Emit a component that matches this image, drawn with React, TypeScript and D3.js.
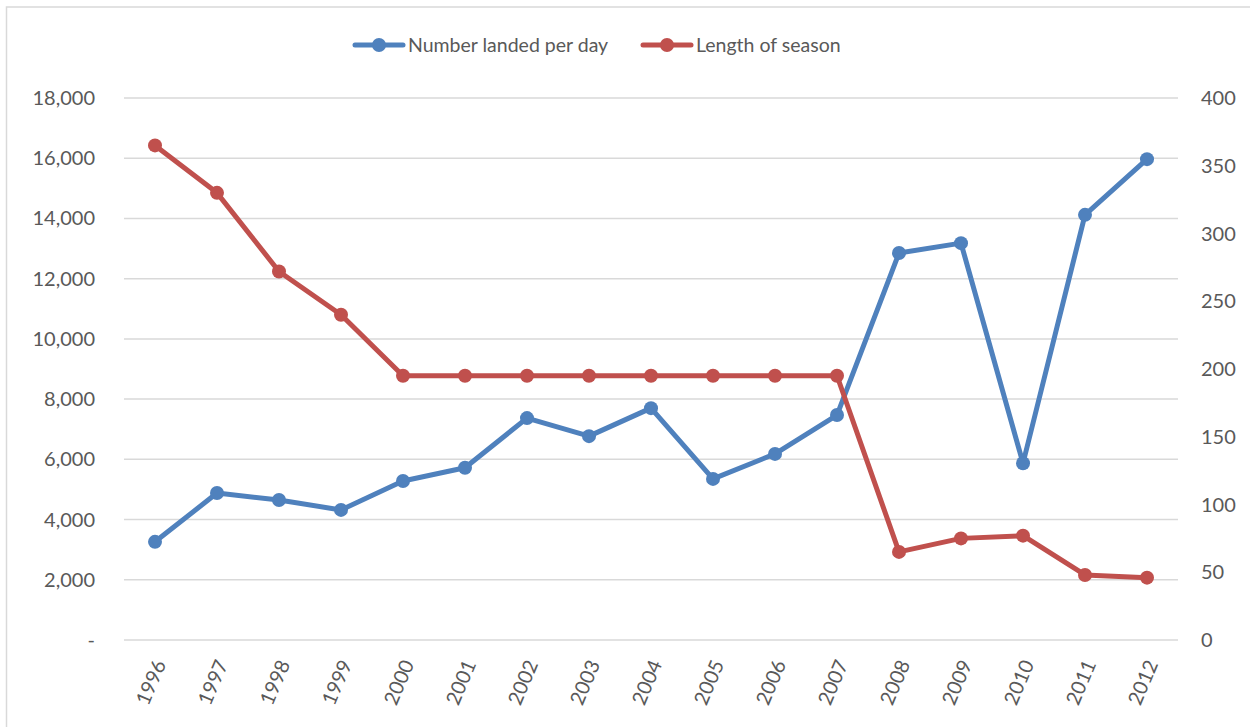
import React from "react";
import * as d3 from "d3";

const years = ["1996","1997","1998","1999","2000","2001","2002","2003","2004","2005","2006","2007","2008","2009","2010","2011","2012"];
const landedPerDay = [3260, 4880, 4650, 4320, 5280, 5720, 7370, 6770, 7700, 5350, 6180, 7470, 12850, 13180, 5870, 14120, 15970];
const seasonLength = [365, 330, 272, 240, 195, 195, 195, 195, 195, 195, 195, 195, 65, 75, 77, 48, 46];
const leftTicks = [0, 2000, 4000, 6000, 8000, 10000, 12000, 14000, 16000, 18000];
const rightTicks = [0, 50, 100, 150, 200, 250, 300, 350, 400];

const W = 1250, H = 727;
const plot = { left: 124, right: 1178, top: 98, bottom: 640 };
const BLUE = "#4f81bd";
const RED = "#c0504d";
const FONT = "Lato, 'Open Sans', sans-serif";

export default function App() {
  const x = d3.scalePoint<string>().domain(years).range([plot.left + 31, plot.right - 31]);
  const yL = d3.scaleLinear().domain([0, 18000]).range([plot.bottom, plot.top]);
  const yR = d3.scaleLinear().domain([0, 400]).range([plot.bottom, plot.top]);
  const fmt = d3.format(",");
  const lineL = d3.line<number>().x((_, i) => x(years[i])!).y(d => yL(d));
  const lineR = d3.line<number>().x((_, i) => x(years[i])!).y(d => yR(d));

  return (
    <svg width={W} height={H} style={{ position: "absolute", left: 0, top: 0 }} fontFamily={FONT}>
      <rect x={0} y={0} width={W} height={H} fill="#fff" />
      <rect x={6.5} y={7} width={W + 10} height={H + 10} fill="none" stroke="#d9d9d9" strokeWidth={1.5} />
      {leftTicks.map(t => (
        <line key={t} x1={plot.left} x2={plot.right} y1={yL(t)} y2={yL(t)} stroke="#d9d9d9" strokeWidth={1.5} />
      ))}
      {leftTicks.map(t => (
        <text key={"l" + t} x={95} y={yL(t)} dy="0.35em" textAnchor="end" fontSize={20} fill="#595959">
          {t === 0 ? "-" : fmt(t)}
        </text>
      ))}
      {rightTicks.map(t => (
        <text key={"r" + t} x={1201} y={yR(t)} dy="0.35em" textAnchor="start" fontSize={20} fill="#595959">
          {t}
        </text>
      ))}
      {years.map(yr => (
        <text key={yr} transform={`translate(${x(yr)! + 5},${plot.bottom + 21}) rotate(-67)`} textAnchor="end" dy="0.35em" fontSize={20} fill="#595959">
          {yr}
        </text>
      ))}
      <path d={lineL(landedPerDay)!} fill="none" stroke={BLUE} strokeWidth={5} strokeLinejoin="round" />
      {landedPerDay.map((v, i) => (
        <circle key={"b" + i} cx={x(years[i])!} cy={yL(v)} r={7} fill={BLUE} />
      ))}
      <path d={lineR(seasonLength)!} fill="none" stroke={RED} strokeWidth={5} strokeLinejoin="round" />
      {seasonLength.map((v, i) => (
        <circle key={"r" + i} cx={x(years[i])!} cy={yR(v)} r={7} fill={RED} />
      ))}
      <g transform="translate(355,45)">
        <line x1={0} x2={48} y1={0} y2={0} stroke={BLUE} strokeWidth={5} strokeLinecap="round" />
        <circle cx={24} cy={0} r={7} fill={BLUE} />
        <text x={53} y={0} dy="0.35em" fontSize={19.5} fill="#595959">Number landed per day</text>
      </g>
      <g transform="translate(643,45)">
        <line x1={0} x2={48} y1={0} y2={0} stroke={RED} strokeWidth={5} strokeLinecap="round" />
        <circle cx={24} cy={0} r={7} fill={RED} />
        <text x={53} y={0} dy="0.35em" fontSize={19.5} fill="#595959">Length of season</text>
      </g>
    </svg>
  );
}
